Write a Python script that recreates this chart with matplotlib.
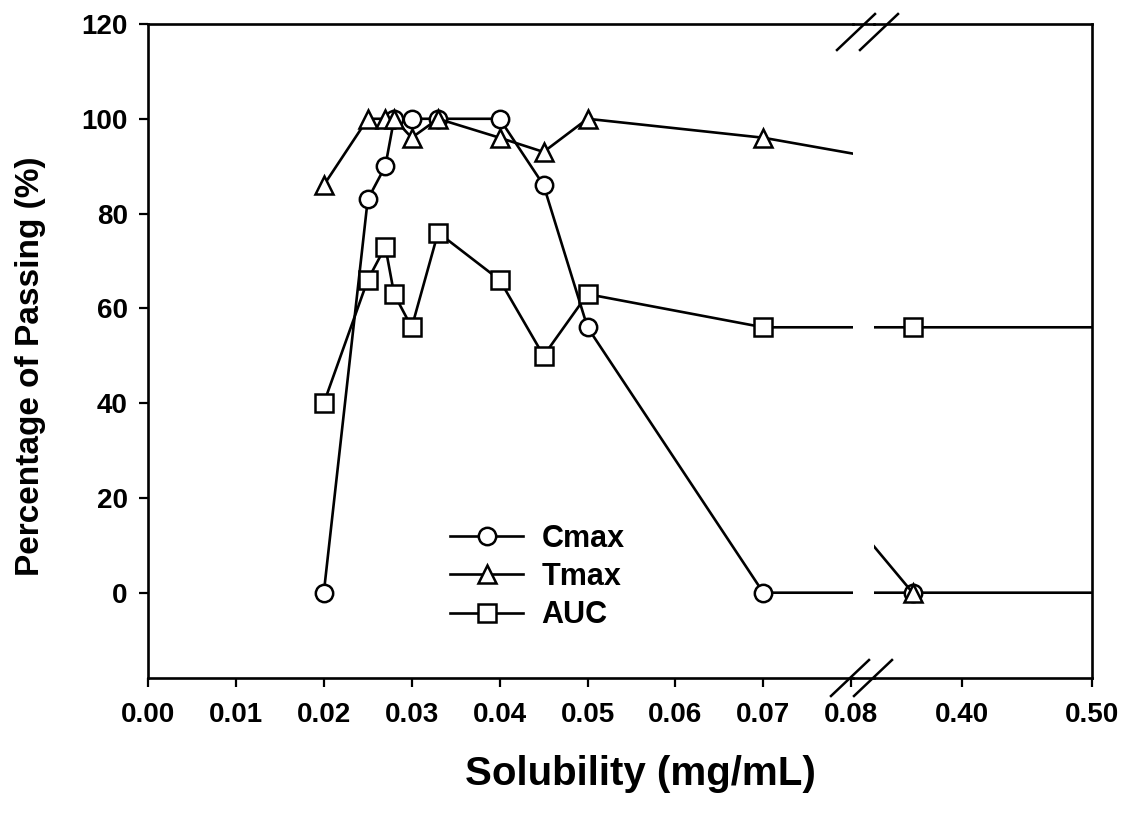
import numpy as np
import matplotlib
matplotlib.use("Agg")
import matplotlib.pyplot as plt
from matplotlib.lines import Line2D

plt.rcParams['font.family'] = ['Liberation Sans', 'DejaVu Sans']
plt.rcParams['font.weight'] = 'bold'

# solubility (mg/mL); last value lies past the right edge, it only carries the flat tails
solubility = [0.020, 0.025, 0.027, 0.028, 0.030, 0.033, 0.040, 0.045, 0.050, 0.070, 0.362, 0.60]
cmax = [0, 83, 90, 100, 100, 100, 100, 86, 56, 0, 0, 0]
tmax = [86, 100, 100, 100, 96, 100, 96, 93, 100, 96, 0, np.nan]
auc = [40, 66, 73, 63, 56, 76, 66, 50, 63, 56, 56, 56]

left_ticks = [0.00, 0.01, 0.02, 0.03, 0.04, 0.05, 0.06, 0.07, 0.08]
right_ticks = [0.40, 0.50]
y_ticks = [0, 20, 40, 60, 80, 100, 120]

W, H = 1128, 814
fig = plt.figure(figsize=(W / 100, H / 100), dpi=100)

# two panels, broken x axis (pixel layout of the reference)
bot, top = 678, 24
ax1 = fig.add_axes([148 / W, (H - bot) / H, (853 - 148) / W, (bot - top) / H])
ax2 = fig.add_axes([874 / W, (H - bot) / H, (1092 - 874) / W, (bot - top) / H])

series = [
    (cmax, 'o', 'Cmax'),
    (tmax, '^', 'Tmax'),
    (auc, 's', 'AUC'),
]
for ax in (ax1, ax2):
    for vals, mk, name in series:
        ax.plot(solubility, vals, color='black', lw=1.9, marker=mk, ms=12.5,
                mfc='white', mec='black', mew=1.8, label=name)
    ax.set_ylim(-18, 120)
    for s in ax.spines.values():
        s.set_linewidth(1.9)
    ax.tick_params(direction='out', length=6.5, width=1.6, labelsize=20)

ax1.set_xlim(0, 0.0802)
ax2.set_xlim(0.3323, 0.50)
ax1.spines['right'].set_visible(False)
ax2.spines['left'].set_visible(False)

ax1.set_xticks(left_ticks)
ax1.set_xticklabels([f'{t:.2f}' for t in left_ticks])
ax2.set_xticks(right_ticks)
ax2.set_xticklabels([f'{t:.2f}' for t in right_ticks])
ax1.set_yticks(y_ticks)
ax2.set_yticks([])
ax1.tick_params(axis='x', pad=11)
ax2.tick_params(axis='x', pad=11)
ax1.tick_params(axis='y', pad=8)

# spine bridges across the gap and the // break marks
for yp in (bot, top):
    yf = (H - yp) / H
    fig.add_artist(Line2D([853 / W, 874 / W], [yf, yf], color='black', lw=1.9))
for yp, cxs in ((bot, (850, 873)), (top + 8, (856, 879))):
    for cx in cxs:
        fig.add_artist(Line2D([(cx - 19) / W, (cx + 19) / W],
                              [(H - yp - 18) / H, (H - yp + 18) / H],
                              color='black', lw=1.8))

leg = ax1.legend(loc='center left', bbox_to_anchor=(450 / W, (H - 577) / H),
                 bbox_transform=fig.transFigure, frameon=False, fontsize=22,
                 handlelength=2.4, handletextpad=0.6, labelspacing=0.27,
                 numpoints=1, borderpad=0, borderaxespad=0)

fig.text(640 / W, (H - 774) / H, 'Solubility (mg/mL)', ha='center', va='center',
         fontsize=29, fontweight='bold')
fig.text(31 / W, (H - 366) / H, 'Percentage of Passing (%)', ha='center', va='center',
         rotation=90, fontsize=24, fontweight='bold')

fig.savefig('out.png', dpi=100)
